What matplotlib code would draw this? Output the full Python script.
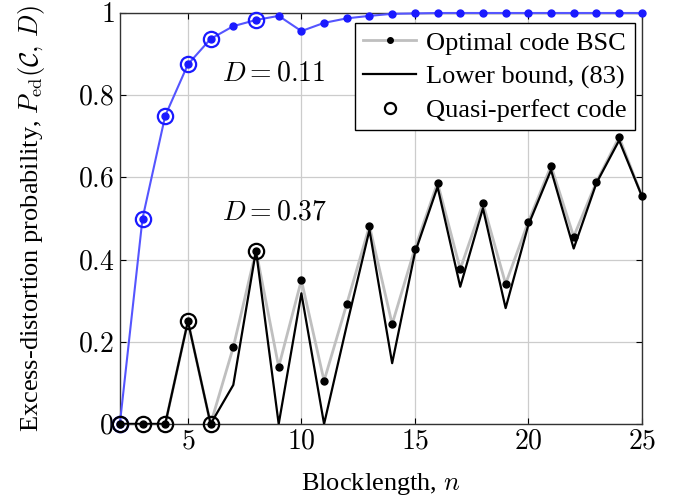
import numpy as np
import matplotlib
matplotlib.use("Agg")
import matplotlib.pyplot as plt
from matplotlib.lines import Line2D

plt.rcParams['font.family'] = ['Liberation Serif', 'DejaVu Serif']
plt.rcParams['mathtext.fontset'] = 'cm'
plt.rcParams['font.size'] = 19

n = np.arange(2, 26)

# D = 0.11, optimal code
opt_011 = [0.0, 0.5, 0.75, 0.875, 0.937, 0.968, 0.983, 0.993, 0.956, 0.976, 0.987, 0.993,
           0.998, 0.999, 1.0, 1.0, 1.0, 1.0, 1.0, 1.0, 1.0, 1.0, 1.0, 1.0]
# D = 0.37, optimal code
opt_037 = [0.0, 0.0, 0.0, 0.25, 0.0, 0.187, 0.422, 0.139, 0.350, 0.105, 0.292, 0.482,
           0.243, 0.427, 0.587, 0.377, 0.537, 0.341, 0.492, 0.628, 0.456, 0.589, 0.698, 0.555]
# D = 0.37, lower bound (83)
low_037 = [0.0, 0.0, 0.0, 0.25, 0.0, 0.095, 0.422, 0.0, 0.318, 0.0, 0.240, 0.472,
           0.148, 0.416, 0.577, 0.334, 0.525, 0.282, 0.484, 0.618, 0.427, 0.586, 0.69, 0.555]
# quasi-perfect blocklengths
qp_n = [2, 3, 4, 5, 6, 8]

fig = plt.figure(figsize=(6.77, 5.0), dpi=100)
ax = fig.add_axes([0.177, 0.152, 0.771, 0.822])

ax.grid(True, color='#cccccc', lw=0.9)
ax.set_axisbelow(True)

# D = 0.11
ax.plot(n, opt_011, color='#5555ff', lw=1.5, zorder=3, clip_on=False)
ax.plot(n, opt_011, ls='none', marker='o', ms=5, color='#1a1aff', zorder=4, clip_on=False)
qp_011 = [opt_011[list(n).index(k)] for k in qp_n]
ax.plot(qp_n, qp_011, ls='none', marker='o', ms=11, mfc='none', mec='#1a1aff', mew=1.6,
        zorder=5, clip_on=False)

# D = 0.37
ax.plot(n, opt_037, color='#bfbfbf', lw=2.0, zorder=6)
ax.plot(n, low_037, color='black', lw=1.6, zorder=7)
ax.plot(n, opt_037, ls='none', marker='o', ms=5, color='black', zorder=8, clip_on=False)
qp_037 = [opt_037[list(n).index(k)] for k in qp_n]
ax.plot(qp_n, qp_037, ls='none', marker='o', ms=11, mfc='none', mec='black', mew=1.6,
        zorder=9, clip_on=False)

ax.text(6.5, 0.835, r'$D = 0.11$', fontsize=20, va='baseline')
ax.text(6.5, 0.497, r'$D = 0.37$', fontsize=20, va='baseline')

ax.set_xlim(2, 25)
ax.set_ylim(0, 1)
ax.set_xticks([5, 10, 15, 20, 25])
ax.set_xticklabels([r'$5$', r'$10$', r'$15$', r'$20$', r'$25$'])
ax.set_yticks([0, 0.2, 0.4, 0.6, 0.8, 1])
ax.set_yticklabels([r'$0$', r'$0.2$', r'$0.4$', r'$0.6$', r'$0.8$', r'$1$'])
ax.tick_params(direction='in', top=True, right=True, length=4, labelsize=20, pad=4)
for s in ax.spines.values():
    s.set_color('#333333')
    s.set_linewidth(1.0)

ax.set_xlabel(r'Blocklength, $n$', fontsize=19, labelpad=12)
ax.set_ylabel(r'Excess-distortion probability, $P_{\mathrm{ed}}(\mathcal{C},\, D)$', fontsize=19, labelpad=22)

handles = [
    Line2D([], [], color='#bfbfbf', lw=2.0, marker='o', ms=4, mfc='black', mec='black'),
    Line2D([], [], color='black', lw=1.6),
    Line2D([], [], ls='none', marker='o', ms=8, mfc='none', mec='black', mew=1.6),
]
leg = ax.legend(handles, ['Optimal code BSC', 'Lower bound, (83)', 'Quasi-perfect code'],
                loc='upper right', bbox_to_anchor=(0.987, 0.975), fontsize=19, fancybox=False,
                framealpha=1, edgecolor='black', handlelength=2.0, handletextpad=0.4,
                borderpad=0.3, labelspacing=0.38, borderaxespad=0.0)
leg.get_frame().set_linewidth(1.0)
leg.set_zorder(20)

fig.savefig('out.png', dpi=100)
